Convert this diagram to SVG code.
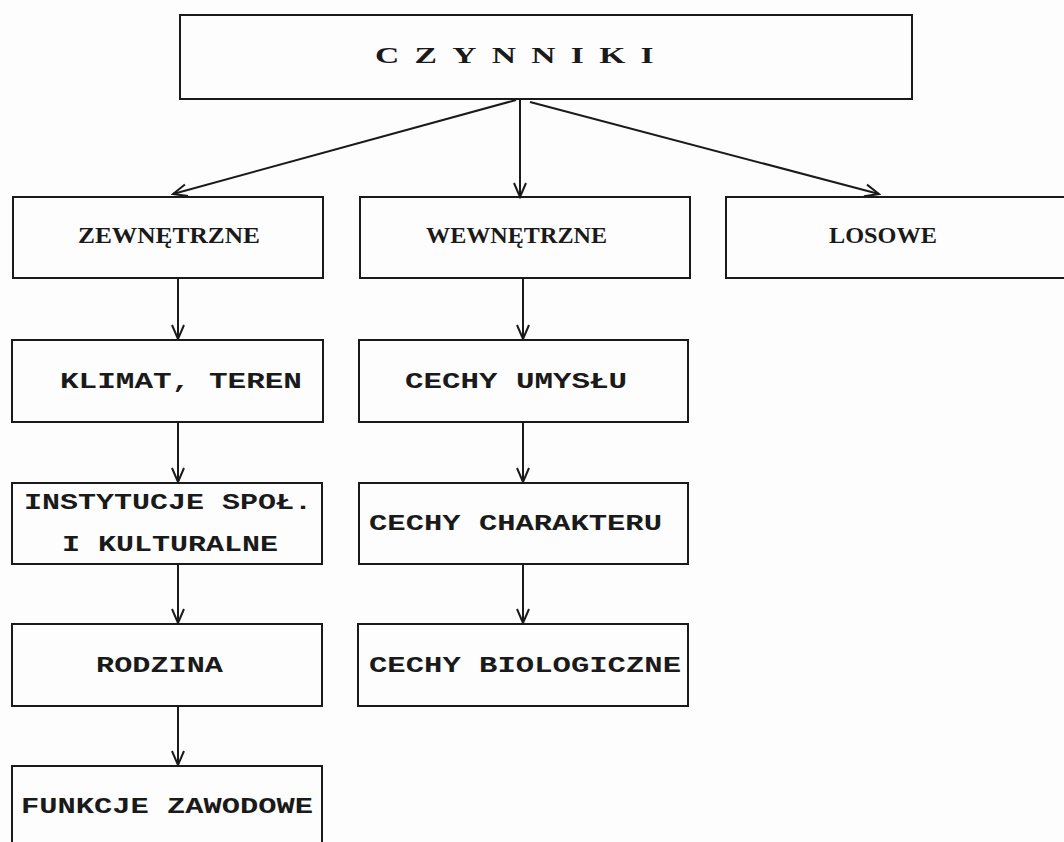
<svg xmlns="http://www.w3.org/2000/svg" width="1064" height="842" viewBox="0 0 1064 842">
  <defs>
    <style>
      .box { fill: none; stroke: #1a1a1a; stroke-width: 2; }
      .conn { stroke: #1a1a1a; stroke-width: 2; fill: none; }
      .title { font-family: "Liberation Serif", "DejaVu Serif", serif; font-weight: bold; font-size: 24px; fill: #1a1a1a; }
      .cat { font-family: "Liberation Serif", "DejaVu Serif", serif; font-weight: bold; font-size: 24px; fill: #1a1a1a; }
      .lbl { font-family: "Liberation Mono", "DejaVu Sans Mono", monospace; font-weight: bold; font-size: 22px; fill: #1a1a1a; }
    </style>
    <marker id="vhead" viewBox="-16 -8 18 16" refX="0" refY="0" markerWidth="18" markerHeight="16" markerUnits="userSpaceOnUse" orient="auto">
      <path d="M -14 -6 L 0 0 L -14 6" fill="none" stroke="#1a1a1a" stroke-width="2"/>
    </marker>
  </defs>
  <rect x="0" y="0" width="1064" height="842" fill="#fdfdfd"/>

  <g id="connectors">
    <line class="conn" x1="516" y1="100" x2="173" y2="194" marker-end="url(#vhead)"/>
    <line class="conn" x1="520" y1="100" x2="520" y2="197" marker-end="url(#vhead)"/>
    <line class="conn" x1="530" y1="102" x2="879" y2="194" marker-end="url(#vhead)"/>
    <line class="conn" x1="178" y1="278" x2="178" y2="339" marker-end="url(#vhead)"/>
    <line class="conn" x1="178" y1="422" x2="178" y2="482" marker-end="url(#vhead)"/>
    <line class="conn" x1="178" y1="564" x2="178" y2="623" marker-end="url(#vhead)"/>
    <line class="conn" x1="178" y1="706" x2="178" y2="765" marker-end="url(#vhead)"/>
    <line class="conn" x1="523" y1="278" x2="523" y2="339" marker-end="url(#vhead)"/>
    <line class="conn" x1="523" y1="422" x2="523" y2="482" marker-end="url(#vhead)"/>
    <line class="conn" x1="523" y1="564" x2="523" y2="623" marker-end="url(#vhead)"/>
  </g>

  <g id="czynniki">
    <rect class="box" x="180" y="15" width="732" height="84"/>
    <g transform="translate(375 63) scale(1.4 1)">
      <text class="title" x="0" y="0" textLength="199" lengthAdjust="spacing">CZYNNIKI</text>
    </g>
  </g>

  <g id="zewnetrzne">
    <rect class="box" x="13" y="197" width="310" height="81"/>
    <text class="cat" x="78" y="243" textLength="182" lengthAdjust="spacingAndGlyphs">ZEWNĘTRZNE</text>
  </g>
  <g id="wewnetrzne">
    <rect class="box" x="360" y="197" width="330" height="81"/>
    <text class="cat" x="426" y="243" textLength="181" lengthAdjust="spacingAndGlyphs">WEWNĘTRZNE</text>
  </g>
  <g id="losowe">
    <rect class="box" x="726" y="197" width="350" height="81"/>
    <text class="cat" x="829" y="243" textLength="108" lengthAdjust="spacingAndGlyphs">LOSOWE</text>
  </g>

  <g id="klimat">
    <rect class="box" x="12" y="340" width="311" height="82"/>
    <text class="lbl" x="60" y="388" textLength="242" lengthAdjust="spacingAndGlyphs">KLIMAT, TEREN</text>
  </g>
  <g id="umysl">
    <rect class="box" x="359" y="340" width="329" height="82"/>
    <text class="lbl" x="405" y="388" textLength="222" lengthAdjust="spacingAndGlyphs">CECHY UMYSŁU</text>
  </g>

  <g id="instytucje">
    <rect class="box" x="12" y="483" width="310" height="81"/>
    <text class="lbl" x="24" y="509" textLength="288" lengthAdjust="spacingAndGlyphs">INSTYTUCJE SPOŁ.</text>
    <text class="lbl" x="62" y="551" textLength="216" lengthAdjust="spacingAndGlyphs">I KULTURALNE</text>
  </g>
  <g id="charakter">
    <rect class="box" x="359" y="483" width="329" height="81"/>
    <text class="lbl" x="369" y="530" textLength="293" lengthAdjust="spacingAndGlyphs">CECHY CHARAKTERU</text>
  </g>

  <g id="rodzina">
    <rect class="box" x="12" y="624" width="310" height="82"/>
    <text class="lbl" x="96" y="672" textLength="127" lengthAdjust="spacingAndGlyphs">RODZINA</text>
  </g>
  <g id="biologiczne">
    <rect class="box" x="358" y="624" width="330" height="82"/>
    <text class="lbl" x="369" y="672" textLength="312" lengthAdjust="spacingAndGlyphs">CECHY BIOLOGICZNE</text>
  </g>

  <g id="zawodowe">
    <rect class="box" x="12" y="766" width="310" height="90"/>
    <text class="lbl" x="21" y="813" textLength="292" lengthAdjust="spacingAndGlyphs">FUNKCJE ZAWODOWE</text>
  </g>
</svg>
